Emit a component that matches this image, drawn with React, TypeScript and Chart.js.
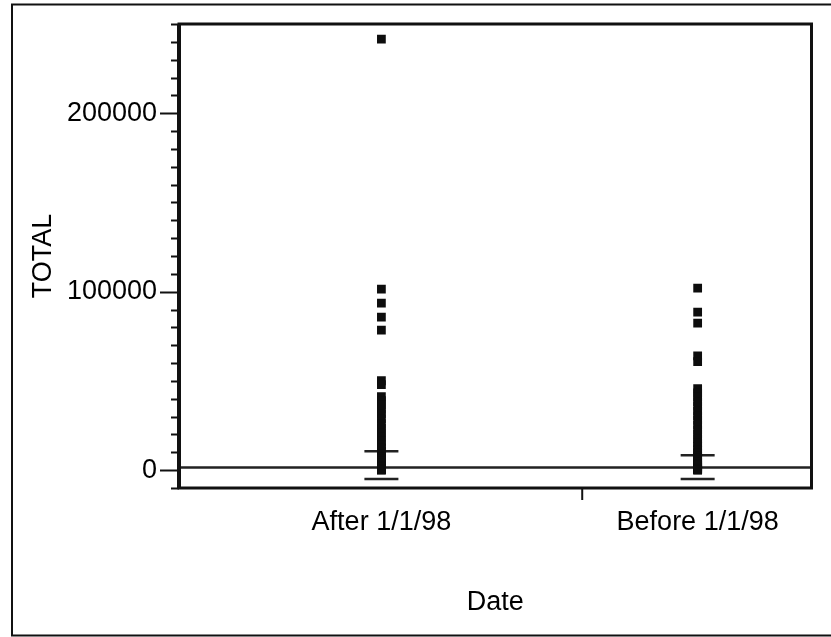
import { useEffect, useRef } from "react";
import { Chart, registerables } from "chart.js";

Chart.register(...registerables);

// ---- data ----
const categories = ["After 1/1/98", "Before 1/1/98"];
const categoryX = [1, 2];
const afterTotals = [
  241500, 101400, 93600, 85700, 78400, 50100, 47900, 41200, 39000, 36600, 34100,
  31500, 28800, 26000, 23400, 21000, 18600, 16200, 14100, 12300, 10500, 9000,
  7600, 6300, 5100, 4100, 3300, 2600, 2000, 1500, 1000, 600, 300, 100, 0,
];
const beforeTotals = [
  102000, 88500, 82400, 64100, 60800, 45700, 43300, 40900, 38400, 35800, 33100,
  30500, 27900, 25200, 22600, 20100, 17700, 15400, 13300, 11400, 9700, 8200,
  6800, 5600, 4500, 3600, 2800, 2100, 1500, 1000, 600, 300, 100, 0,
];
const upperCaps = [10600, 8400];
const lowerCaps = [-5000, -5000];
const referenceLevel = 1500;
const yMin = -10000;
const yMax = 250000;
const yTickStep = 10000;
const yLabelStep = 100000;
const xMin = 0.36;
const xMax = 2.36;
const xDividerTicks = [1.635];

const FONT = "'Liberation Sans', Arial, Helvetica, sans-serif";

const framePlugin = {
  id: "frame",
  afterDraw(chart: any) {
    const { ctx, chartArea: a, scales } = chart;
    const y = scales.y;
    const x = scales.x;
    ctx.save();
    ctx.strokeStyle = "#111";
    // outer frame
    ctx.lineWidth = 2;
    ctx.beginPath();
    ctx.moveTo(831, 4.5);
    ctx.lineTo(12, 4.5);
    ctx.lineTo(12, 635.5);
    ctx.lineTo(831, 635.5);
    ctx.stroke();
    // plot frame
    ctx.lineWidth = 3;
    ctx.strokeRect(a.left, a.top, a.right - a.left, a.bottom - a.top);
    ctx.lineWidth = 4;
    ctx.beginPath();
    ctx.moveTo(a.left, a.top);
    ctx.lineTo(a.left, a.bottom);
    ctx.stroke();
    // y tick marks
    ctx.lineWidth = 2;
    for (const t of y.ticks) {
      const py = Math.round(y.getPixelForValue(t.value)) + 0.5;
      const major = t.value % yLabelStep === 0;
      ctx.beginPath();
      ctx.moveTo(a.left - (major ? 19 : 8), py);
      ctx.lineTo(a.left, py);
      ctx.stroke();
    }
    // x divider tick
    for (const v of xDividerTicks) {
      const px = x.getPixelForValue(v);
      ctx.beginPath();
      ctx.moveTo(px, a.bottom);
      ctx.lineTo(px, a.bottom + 12);
      ctx.stroke();
    }
    ctx.restore();
  },
};

export default function App() {
  const ref = useRef<HTMLCanvasElement | null>(null);

  useEffect(() => {
    if (!ref.current) return;
    const pts = (xv: number, arr: number[]) => arr.map((v) => ({ x: xv, y: v }));
    const chart = new Chart(ref.current, {
      type: "scatter",
      data: {
        datasets: [
          {
            label: categories[0],
            data: pts(categoryX[0], afterTotals),
            pointStyle: "rect",
            pointRadius: 6.2,
            backgroundColor: "#0d0d0d",
            borderColor: "#0d0d0d",
            borderWidth: 0,
          },
          {
            label: categories[1],
            data: pts(categoryX[1], beforeTotals),
            pointStyle: "rect",
            pointRadius: 6.2,
            backgroundColor: "#0d0d0d",
            borderColor: "#0d0d0d",
            borderWidth: 0,
          },
          {
            label: "caps",
            data: [
              ...categoryX.map((xv, i) => ({ x: xv, y: upperCaps[i] })),
              ...categoryX.map((xv, i) => ({ x: xv, y: lowerCaps[i] })),
            ],
            pointStyle: "line",
            pointRadius: 17,
            borderColor: "#222",
            borderWidth: 2.5,
          },
          {
            type: "line",
            label: "reference",
            data: [
              { x: xMin, y: referenceLevel },
              { x: xMax, y: referenceLevel },
            ],
            borderColor: "#222",
            borderWidth: 2.5,
            pointRadius: 0,
          } as any,
        ],
      },
      options: {
        animation: false,
        responsive: false,
        devicePixelRatio: 1,
        layout: { padding: { left: 0, top: 24, right: 6, bottom: 0 } },
        plugins: { legend: { display: false }, tooltip: { enabled: false } },
        scales: {
          x: {
            type: "linear",
            min: xMin,
            max: xMax,
            grid: { display: false, drawTicks: false },
            border: { display: false },
            afterBuildTicks: (s: any) => {
              s.ticks = categoryX.map((v) => ({ value: v }));
            },
            afterFit: (s: any) => {
              s.height = 149;
              s.paddingLeft = 0;
              s.paddingRight = 0;
            },
            ticks: {
              autoSkip: false,
              maxRotation: 0,
              padding: 18,
              color: "#000",
              font: { family: FONT, size: 27 },
              callback: (v: any) => {
                const i = categoryX.indexOf(Number(v));
                return i >= 0 ? categories[i] : "";
              },
            },
            title: {
              display: true,
              text: "Date",
              color: "#000",
              font: { family: FONT, size: 27 },
              padding: { top: 0, bottom: 18 },
            },
          },
          y: {
            type: "linear",
            min: yMin,
            max: yMax,
            grid: { display: false, drawTicks: false },
            border: { display: false },
            afterFit: (s: any) => {
              s.width = 179;
              s.paddingTop = 0;
              s.paddingBottom = 0;
            },
            ticks: {
              stepSize: yTickStep,
              maxTicksLimit: 100,
              autoSkip: false,
              padding: 22,
              color: "#000",
              font: { family: FONT, size: 27 },
              callback: (v: any) => (Number(v) % yLabelStep === 0 ? String(v) : ""),
            },
            title: {
              display: true,
              text: "TOTAL",
              color: "#000",
              font: { family: FONT, size: 27 },
              padding: { top: 27, bottom: 0 },
            },
          },
        },
      },
      plugins: [framePlugin],
    });
    return () => chart.destroy();
  }, []);

  return (
    <div style={{ position: "absolute", left: 0, top: 0, width: 831, height: 637, background: "#fff" }}>
      <canvas ref={ref} width={831} height={637} />
    </div>
  );
}
